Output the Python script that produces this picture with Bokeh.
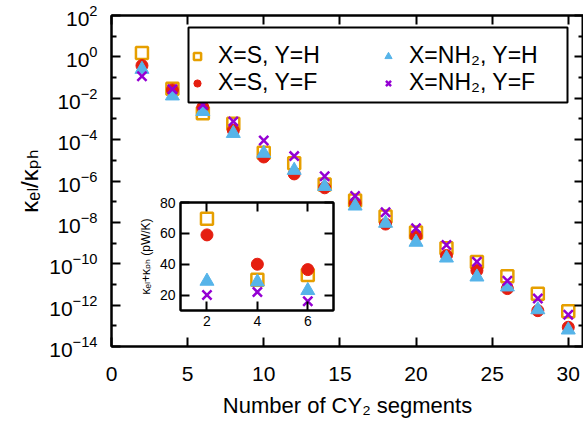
from bokeh.plotting import figure
from bokeh.models import (LogAxis, LinearAxis, FixedTicker, Legend, LegendItem,
                          Range1d, CustomJSTickFormatter, BoxAnnotation)
from bokeh.layouts import column
from bokeh.embed import file_html
from bokeh.resources import INLINE

# ---------------- data ----------------
segments = [2, 4, 6, 8, 10, 12, 14, 16, 18, 20, 22, 24, 26, 28, 30]
ratio_S_H = [1.55, 2.9e-2, 1.9e-3, 5.9e-4, 2.3e-5, 7.2e-6, 6.8e-7, 1.15e-7,
             1.9e-8, 3.2e-9, 5.6e-10, 1.2e-10, 2.5e-11, 3.5e-12, 5.0e-13]
ratio_S_F = [0.38, 2.5e-2, 3.7e-3, 2.8e-4, 1.45e-5, 2.2e-6, 4.7e-7, 8.5e-8,
             8.3e-9, 2.2e-9, 2.5e-10, 4.7e-11, 6.3e-12, 5.4e-13, 8.5e-14]
ratio_NH2_H = [0.25, 1.3e-2, 2.3e-3, 2.0e-4, 2.2e-5, 3.3e-6, 5.5e-7, 6.2e-8,
               9.1e-9, 1.1e-9, 1.9e-10, 2.3e-11, 7.6e-12, 6.0e-13, 6.3e-14]
ratio_NH2_F = [0.115, 2.75e-2, 4.9e-3, 7.6e-4, 9.1e-5, 1.6e-5, 1.7e-6, 1.9e-7,
               3.1e-8, 5.2e-9, 8.1e-10, 1.26e-10, 1.5e-11, 2.1e-12, 3.4e-13]

inset_segments = [2, 4, 6]
kappa_S_H = [69.5, 30, 33]
kappa_S_F = [59, 40, 36.5]
kappa_NH2_H = [29, 28.5, 23]
kappa_NH2_F = [20, 22, 16]

labels = ["X=S, Y=H", "X=S, Y=F", "X=NH\u2082, Y=H", "X=NH\u2082, Y=F"]

y_major = [1e2, 1e0, 1e-2, 1e-4, 1e-6, 1e-8, 1e-10, 1e-12, 1e-14]
y_minor = [1e1, 1e-1, 1e-3, 1e-5, 1e-7, 1e-9, 1e-11, 1e-13]
x_major = [0, 5, 10, 15, 20, 25, 30]
inset_x_ticks = [2, 4, 6]
inset_y_ticks = [20, 40, 60, 80]

# ---------------- style ----------------
FONT = "Liberation Sans, Arial, DejaVu Sans, sans-serif"
C_SH = "#E69F00"
C_SF = "#E51E10"
C_NH = "#56B4E9"
C_NF = "#9400D3"


def style_axis(ax, tick_in, minor_in=0, label_size="21px", show_labels=True):
    ax.axis_line_width = 2
    ax.axis_line_color = "black"
    ax.major_tick_in = tick_in
    ax.major_tick_out = 0
    ax.minor_tick_in = minor_in
    ax.minor_tick_out = 0
    ax.major_tick_line_width = 2
    ax.minor_tick_line_width = 2
    ax.major_label_text_font = FONT
    ax.major_label_text_font_size = label_size
    ax.major_label_text_color = "black"
    ax.axis_label_text_font = FONT
    ax.axis_label_text_font_style = "normal"
    ax.axis_label_text_color = "black"
    if not show_labels:
        ax.formatter = CustomJSTickFormatter(code="return ''")
        ax.major_label_text_font_size = "1px"
        ax.major_label_standoff = 0


# ---------------- main figure ----------------
p = figure(width=583, height=427, x_range=Range1d(0, 31),
           y_range=Range1d(1e-14, 1e2), y_axis_type="log",
           output_backend="svg", toolbar_location=None,
           min_border_left=111, min_border_right=0,
           min_border_top=15, min_border_bottom=81)
p.grid.visible = False
p.outline_line_color = "black"
p.outline_line_width = 2
p.background_fill_color = "white"
p.border_fill_color = "white"
p.frame_align = False

y_ticker = FixedTicker(ticks=y_major, minor_ticks=y_minor)
x_ticker = FixedTicker(ticks=x_major, minor_ticks=[])

ya = p.yaxis[0]
ya.ticker = y_ticker
style_axis(ya, 9, 5)
ya.major_label_standoff = 14
ya.axis_label = "\u03ba\u2091\u2097/\u03ba\u209a\u2095"
ya.axis_label_text_font_size = "24px"
ya.axis_label_standoff = 3

xa = p.xaxis[0]
xa.ticker = x_ticker
style_axis(xa, 9, 0)
xa.major_label_standoff = 20
xa.axis_label = "Number of CY\u2082 segments"
xa.axis_label_text_font_size = "22px"
xa.axis_label_standoff = 9

ra = LogAxis(ticker=y_ticker)
style_axis(ra, 9, 5, show_labels=False)
p.add_layout(ra, "right")
ta = LinearAxis(ticker=x_ticker)
style_axis(ta, 9, 0, show_labels=False)
p.add_layout(ta, "above")

r_sh = p.scatter(segments, ratio_S_H, marker="square", size=12, fill_color=None,
                 line_color=C_SH, line_width=2.5)
r_sf = p.scatter(segments, ratio_S_F, marker="circle", size=12, fill_color=C_SF,
                 line_color=C_SF)
r_nh = p.scatter(segments, ratio_NH2_H, marker="triangle", size=14, fill_color=C_NH,
                 line_color=C_NH)
r_nf = p.scatter(segments, ratio_NH2_F, marker="x", size=13, line_color=C_NF,
                 line_width=2.5)

# legend frame
legend_box = BoxAnnotation(left=188, right=567, top=27, bottom=102,
                           left_units="canvas", right_units="canvas",
                           top_units="canvas", bottom_units="canvas",
                           fill_color="white", fill_alpha=1.0,
                           line_color="black", line_width=2, line_alpha=1.0)
p.add_layout(legend_box)


def make_legend(items, loc):
    lg = Legend(items=items, location=loc, orientation="vertical")
    lg.label_text_font = FONT
    lg.label_text_font_size = "23px"
    lg.label_text_color = "black"
    lg.label_height = 26
    lg.label_standoff = 12
    lg.glyph_width = 18
    lg.glyph_height = 18
    lg.spacing = 0
    lg.padding = 12
    lg.margin = 0
    lg.border_line_color = None
    lg.background_fill_alpha = 0
    return lg


leg1 = make_legend([LegendItem(label=labels[0], renderers=[r_sh]),
                    LegendItem(label=labels[1], renderers=[r_sf])], (77, 250))
leg2 = make_legend([LegendItem(label=labels[2], renderers=[r_nh]),
                    LegendItem(label=labels[3], renderers=[r_nf])], (268, 250))
p.add_layout(leg1)
p.add_layout(leg2)

# ---------------- inset ----------------
inset = figure(width=203, height=140, x_range=Range1d(0.95, 7.02),
               y_range=Range1d(10, 80), output_backend="svg", toolbar_location=None,
               min_border_left=42, min_border_right=5, min_border_top=7,
               min_border_bottom=25)
inset.grid.visible = False
inset.outline_line_color = "black"
inset.outline_line_width = 2
inset.background_fill_color = "white"
inset.border_fill_color = None
inset.border_fill_alpha = 0
inset.frame_align = False

ix_ticker = FixedTicker(ticks=inset_x_ticks, minor_ticks=[])
iy_ticker = FixedTicker(ticks=inset_y_ticks, minor_ticks=[])
ixa = inset.xaxis[0]
ixa.ticker = ix_ticker
style_axis(ixa, 9, 0, label_size="14px")
ixa.major_label_standoff = 5
iya = inset.yaxis[0]
iya.ticker = iy_ticker
style_axis(iya, 9, 0, label_size="14px")
iya.major_label_standoff = 5
iya.axis_label = "\u03ba\u2091\u2097+\u03ba\u209a\u2095 (pW/K)"
iya.axis_label_text_font_size = "12px"
iya.axis_label_standoff = 4
ira = LinearAxis(ticker=iy_ticker)
style_axis(ira, 9, 0, show_labels=False)
inset.add_layout(ira, "right")
ita = LinearAxis(ticker=ix_ticker)
style_axis(ita, 9, 0, show_labels=False)
inset.add_layout(ita, "above")

inset.scatter(inset_segments, kappa_S_H, marker="square", size=12, fill_color=None,
              line_color=C_SH, line_width=2.5)
inset.scatter(inset_segments, kappa_S_F, marker="circle", size=12, fill_color=C_SF,
              line_color=C_SF)
inset.scatter(inset_segments, kappa_NH2_H, marker="triangle", size=14, fill_color=C_NH,
              line_color=C_NH)
inset.scatter(inset_segments, kappa_NH2_F, marker="x", size=13, line_color=C_NF,
              line_width=2.5)
inset.styles = {"position": "absolute", "left": "135px", "top": "195px"}

layout = column(p, inset)

open("out.html", "w").write(file_html(layout, INLINE))
